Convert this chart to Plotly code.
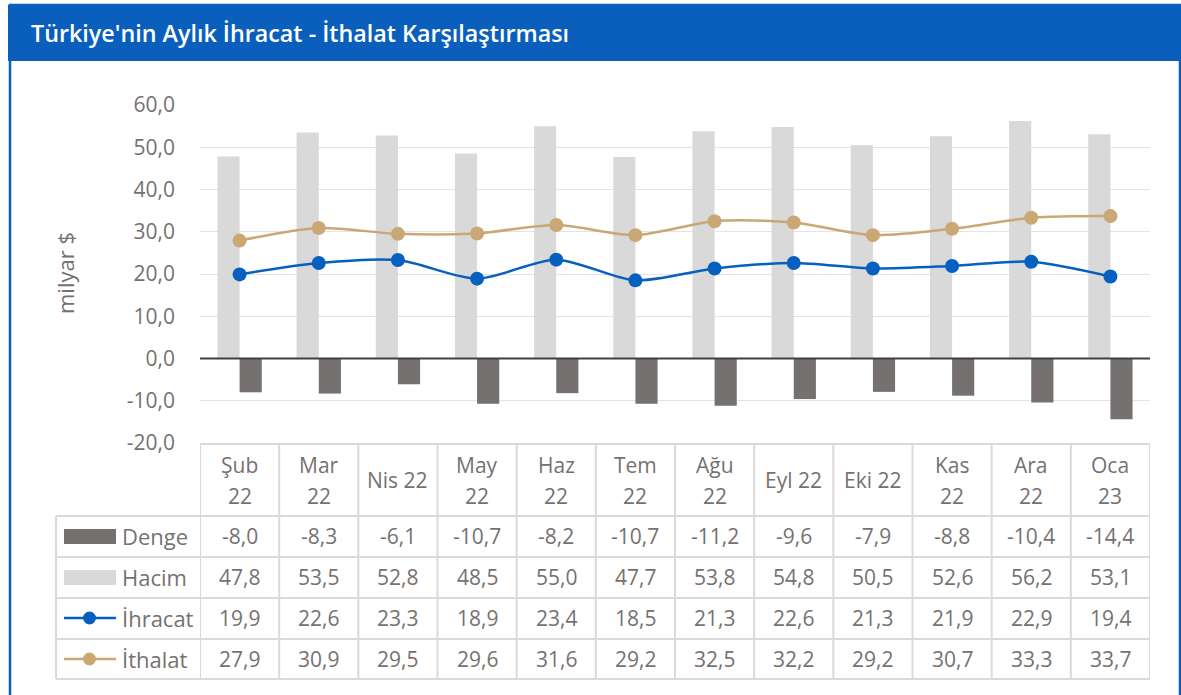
import plotly.graph_objects as go

# ---------------- data ----------------
months = ["Şub 22", "Mar 22", "Nis 22", "May 22", "Haz 22", "Tem 22",
          "Ağu 22", "Eyl 22", "Eki 22", "Kas 22", "Ara 22", "Oca 23"]
header_labels = ["Şub<br>22", "Mar<br>22", "Nis 22", "May<br>22", "Haz<br>22", "Tem<br>22",
                 "Ağu<br>22", "Eyl 22", "Eki 22", "Kas<br>22", "Ara<br>22", "Oca<br>23"]
denge = [-8.0, -8.3, -6.1, -10.7, -8.2, -10.7, -11.2, -9.6, -7.9, -8.8, -10.4, -14.4]
hacim = [47.8, 53.5, 52.8, 48.5, 55.0, 47.7, 53.8, 54.8, 50.5, 52.6, 56.2, 53.1]
ihracat = [19.9, 22.6, 23.3, 18.9, 23.4, 18.5, 21.3, 22.6, 21.3, 21.9, 22.9, 19.4]
ithalat = [27.9, 30.9, 29.5, 29.6, 31.6, 29.2, 32.5, 32.2, 29.2, 30.7, 33.3, 33.7]
y_ticks = [-20, -10, 0, 10, 20, 30, 40, 50, 60]
title_text = "Türkiye'nin Aylık İhracat - İthalat Karşılaştırması"
y_title = "milyar $"

# ---------------- styling ----------------
W, H = 1181, 695
L, R, T, B = 200, 1150, 105, 443
FONT = "Open Sans"
TXT = "#767171"
GRID = "#e3e3e3"
TBL = "#dcdad8"
C_DENGE = "#767171"
C_HACIM = "#d9d9d9"
C_IHR = "#0660c0"
C_ITH = "#c9a876"
BLUE = "#0a5fbd"


def px(xp):
    return (xp - L) / (R - L)


def py(yp):
    return (B - yp) / (B - T)


def fmt(v):
    return f"{v:.1f}".replace(".", ",")


fig = go.Figure()
fig.add_trace(go.Bar(x=months, y=hacim, name="Hacim", marker_color=C_HACIM, marker_line_width=0))
fig.add_trace(go.Bar(x=months, y=denge, name="Denge", marker_color=C_DENGE, marker_line_width=0))
fig.add_trace(go.Scatter(x=months, y=ithalat, name="İthalat", mode="lines+markers",
                         line=dict(color=C_ITH, width=2.5, shape="spline", smoothing=0.8),
                         marker=dict(color=C_ITH, size=14)))
fig.add_trace(go.Scatter(x=months, y=ihracat, name="İhracat", mode="lines+markers",
                         line=dict(color=C_IHR, width=2.5, shape="spline", smoothing=0.8),
                         marker=dict(color=C_IHR, size=14)))

shapes = []
annotations = []

# frame and title band
shapes.append(dict(type="rect", xref="paper", yref="paper",
                   x0=px(10), x1=px(1180), y0=py(5), y1=py(700),
                   line=dict(color=BLUE, width=2.5), fillcolor="rgba(0,0,0,0)", layer="below"))
shapes.append(dict(type="rect", xref="paper", yref="paper",
                   x0=px(8), x1=px(1181.5), y0=py(5), y1=py(61),
                   line=dict(width=0), fillcolor=BLUE, layer="below"))
annotations.append(dict(xref="paper", yref="paper", x=px(29), y=py(33), xanchor="left",
                        yanchor="middle", text=title_text, showarrow=False,
                        font=dict(family=FONT, size=23.3, color="white", weight=600)))

# y title
annotations.append(dict(xref="paper", yref="paper", x=px(65), y=py(273), text=y_title,
                        textangle=-90, showarrow=False, xanchor="center", yanchor="middle",
                        font=dict(family=FONT, size=22, color=TXT)))

# zero line on top
shapes.append(dict(type="line", xref="paper", yref="y", x0=0, x1=1, y0=0, y1=0,
                   line=dict(color="#404040", width=2), layer="above"))

# ---------------- data table ----------------
n = len(months)
row_lines = [444, 516, 557, 598, 639, 679]
shapes.append(dict(type="line", xref="x", yref="paper", x0=-0.5, x1=n - 0.5,
                   y0=py(row_lines[0]), y1=py(row_lines[0]), line=dict(color=TBL, width=2)))
for yl in row_lines[1:]:
    shapes.append(dict(type="line", xref="paper", yref="paper", x0=px(56), x1=1,
                       y0=py(yl), y1=py(yl), line=dict(color=TBL, width=2)))
for i in range(n + 1):
    shapes.append(dict(type="line", xref="x", yref="paper", x0=i - 0.5, x1=i - 0.5,
                       y0=py(row_lines[0]), y1=py(row_lines[-1]), line=dict(color=TBL, width=2)))
shapes.append(dict(type="line", xref="paper", yref="paper", x0=px(56), x1=px(56),
                   y0=py(row_lines[1]), y1=py(row_lines[-1]), line=dict(color=TBL, width=2)))

# header row
for i, lab in enumerate(header_labels):
    parts = lab.split("<br>")
    if len(parts) == 2:
        for j, p in enumerate(parts):
            annotations.append(dict(xref="x", yref="paper", x=i, y=py(465 + 31 * j), text=p,
                                    showarrow=False, xanchor="center", yanchor="middle",
                                    font=dict(family=FONT, size=21, color=TXT)))
    else:
        annotations.append(dict(xref="x", yref="paper", x=i, y=py(480), text=lab,
                                showarrow=False, xanchor="center", yanchor="middle",
                                font=dict(family=FONT, size=21, color=TXT)))

rows = [("Denge", denge, 536), ("Hacim", hacim, 577), ("İhracat", ihracat, 618), ("İthalat", ithalat, 659)]
for name, vals, yc in rows:
    annotations.append(dict(xref="paper", yref="paper", x=px(120), y=py(yc), text=name,
                            showarrow=False, xanchor="left", yanchor="middle",
                            font=dict(family=FONT, size=22, color=TXT)))
    for i, v in enumerate(vals):
        annotations.append(dict(xref="x", yref="paper", x=i, y=py(yc), text=fmt(v),
                                showarrow=False, xanchor="center", yanchor="middle",
                                font=dict(family=FONT, size=21, color=TXT)))

# legend keys
shapes.append(dict(type="rect", xref="paper", yref="paper", x0=px(64), x1=px(116),
                   y0=py(529), y1=py(544), fillcolor=C_DENGE, line=dict(width=0)))
shapes.append(dict(type="rect", xref="paper", yref="paper", x0=px(64), x1=px(116),
                   y0=py(570), y1=py(585), fillcolor=C_HACIM, line=dict(width=0)))
for col, yc in [(C_IHR, 618), (C_ITH, 659)]:
    shapes.append(dict(type="line", xref="paper", yref="paper", x0=px(64), x1=px(116),
                       y0=py(yc), y1=py(yc), line=dict(color=col, width=2.5)))
    shapes.append(dict(type="circle", xref="paper", yref="paper", x0=px(83), x1=px(96),
                       y0=py(yc - 6.5), y1=py(yc + 6.5), fillcolor=col, line=dict(width=0)))

fig.update_layout(
    width=W, height=H, autosize=False,
    margin=dict(l=L, r=W - R, t=T, b=H - B, pad=0),
    paper_bgcolor="white", plot_bgcolor="white",
    separators=",.",
    barmode="group", bargap=0.44, bargroupgap=0,
    showlegend=False,
    font=dict(family=FONT, size=21, color=TXT),
    xaxis=dict(type="category", range=[-0.5, n - 0.5], showticklabels=False,
               showgrid=False, zeroline=False, showline=False, ticks=""),
    yaxis=dict(range=[-20, 60], tickvals=y_ticks, ticktext=[fmt(v) for v in y_ticks],
               showgrid=True, gridcolor=GRID, gridwidth=1, zeroline=False,
               showline=False, ticks="", ticklabelstandoff=24,
               tickfont=dict(family=FONT, size=21, color=TXT)),
    shapes=shapes, annotations=annotations,
)

fig.write_html("out.html", config={"displayModeBar": False},
               post_script="document.body.style.margin='0';document.body.style.overflow='hidden';")
